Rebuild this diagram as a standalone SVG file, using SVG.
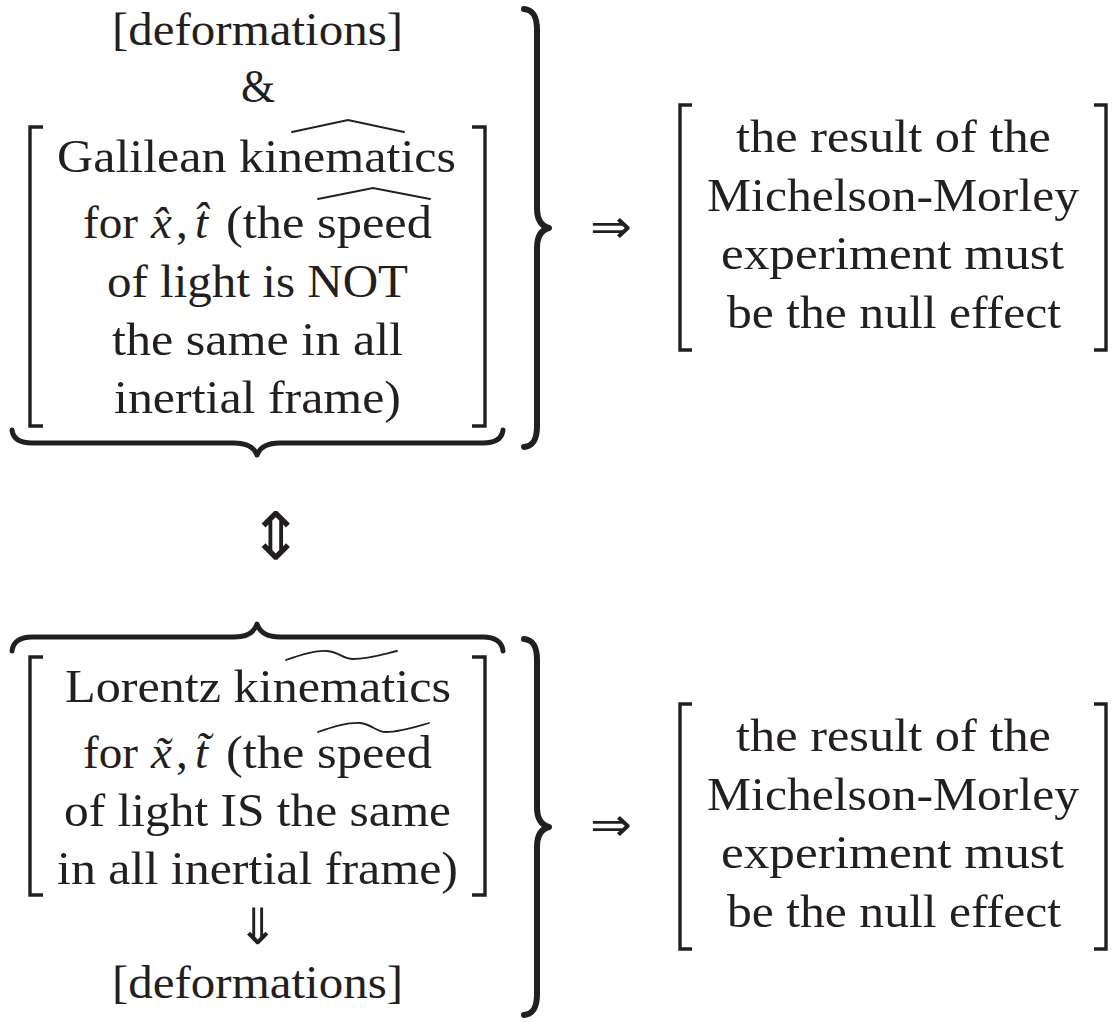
<svg xmlns="http://www.w3.org/2000/svg" width="1115" height="1022" viewBox="0 0 1115 1022">
<style>
.t{font-family:"Liberation Serif","Times New Roman",serif;font-size:47px;fill:#231f20}
.i{font-style:italic}
.a{font-family:"DejaVu Sans ExtraLight","DejaVu Sans","DejaVu Serif",sans-serif;fill:#231f20}
.brk{fill:none;stroke:#231f20;stroke-width:3.4;stroke-linejoin:miter}
.brace{fill:none;stroke:#231f20;stroke-width:5;stroke-linecap:round;stroke-linejoin:round}
.bigbrace{fill:none;stroke:#231f20;stroke-width:6;stroke-linecap:round;stroke-linejoin:round}
.acc{fill:none;stroke:#231f20;stroke-width:1.8;stroke-linecap:round;stroke-linejoin:miter}
</style>
<rect width="1115" height="1022" fill="#ffffff"/>

<g id="galilean">
<text class="t" x="112" y="45" textLength="291" lengthAdjust="spacingAndGlyphs">[deformations]</text>
<text class="t" x="241" y="102" textLength="34" lengthAdjust="spacingAndGlyphs">&amp;</text>
<path class="brk" d="M43,127 L30,127 L30,426 L43,426"/>
<path class="brk" d="M472,127 L485,127 L485,426 L472,426"/>
<text class="t" x="57" y="172" textLength="399" lengthAdjust="spacingAndGlyphs">Galilean kinematics</text>
<path class="acc" d="M292,132 L348,120 L404,132"/>
<text class="t" x="83" y="238" textLength="55" lengthAdjust="spacingAndGlyphs">for</text>
<text class="t i" x="151" y="238">x̂</text>
<text class="t" x="176" y="238">,</text>
<text class="t i" x="195" y="238">t̂</text>
<text class="t" x="226" y="238" textLength="206" lengthAdjust="spacingAndGlyphs">(the speed</text>
<path class="acc" d="M318,199 L373,188 L430,199"/>
<text class="t" x="107" y="297" textLength="301" lengthAdjust="spacingAndGlyphs">of light is NOT</text>
<text class="t" x="112" y="355" textLength="291" lengthAdjust="spacingAndGlyphs">the same in all</text>
<text class="t" x="114" y="413" textLength="287" lengthAdjust="spacingAndGlyphs">inertial frame)</text>
<path class="brace" d="M12,430 C13,439 20,443 32,443 L234,443 C247,443 254,447 257,455 C260,447 267,443 280,443 L483,443 C495,443 502,439 503,430"/>
<path class="bigbrace" d="M524,9 C533,10 537,16 537,30 L537,208 C537,220 541,226 549,228 C541,230 537,236 537,248 L537,426 C537,440 533,446 524,447"/>
</g>

<g id="result-top">
<path class="brk" d="M692,105 L680,105 L680,350 L692,350"/>
<path class="brk" d="M1094,105 L1106,105 L1106,350 L1094,350"/>
<text class="t" x="736" y="152" textLength="315" lengthAdjust="spacingAndGlyphs">the result of the</text>
<text class="t" x="707" y="211" textLength="372" lengthAdjust="spacingAndGlyphs">Michelson-Morley</text>
<text class="t" x="721" y="269" textLength="343" lengthAdjust="spacingAndGlyphs">experiment must</text>
<text class="t" x="727" y="328" textLength="334" lengthAdjust="spacingAndGlyphs">be the null effect</text>
</g>

<g id="lorentz">
<path class="brace" d="M12,651 C13,642 20,637 32,637 L234,637 C247,637 254,633 257,624 C260,633 267,637 280,637 L483,637 C495,637 502,642 503,651"/>
<path class="brk" d="M43,657 L30,657 L30,895 L43,895"/>
<path class="brk" d="M472,657 L485,657 L485,895 L472,895"/>
<text class="t" x="65" y="702" textLength="386" lengthAdjust="spacingAndGlyphs">Lorentz kinematics</text>
<path class="acc" d="M286,660 C300,655 315,650 327,651 C339,652 343,659 353,659 C368,659 384,654 397,651"/>
<text class="t" x="83" y="768" textLength="55" lengthAdjust="spacingAndGlyphs">for</text>
<text class="t i" x="151" y="768">x̃</text>
<text class="t" x="176" y="768">,</text>
<text class="t i" x="195" y="768">t̃</text>
<text class="t" x="226" y="768" textLength="206" lengthAdjust="spacingAndGlyphs">(the speed</text>
<path class="acc" d="M318,732 C332,727 347,722 360,723 C372,724 376,732 386,732 C400,732 415,727 429,723"/>
<text class="t" x="64" y="826" textLength="387" lengthAdjust="spacingAndGlyphs">of light IS the same</text>
<text class="t" x="57" y="884" textLength="401" lengthAdjust="spacingAndGlyphs">in all inertial frame)</text>
<text class="a" x="258" y="944" font-size="50" text-anchor="middle">⇓</text>
<text class="t" x="112" y="998" textLength="291" lengthAdjust="spacingAndGlyphs">[deformations]</text>
<path class="bigbrace" d="M524,639 C533,640 537,646 537,660 L537,807 C537,819 541,825 549,827 C541,829 537,835 537,847 L537,994 C537,1008 533,1014 524,1015"/>
</g>

<g id="result-bottom">
<path class="brk" d="M692,704 L680,704 L680,949 L692,949"/>
<path class="brk" d="M1094,704 L1106,704 L1106,949 L1094,949"/>
<text class="t" x="736" y="751" textLength="315" lengthAdjust="spacingAndGlyphs">the result of the</text>
<text class="t" x="707" y="810" textLength="372" lengthAdjust="spacingAndGlyphs">Michelson-Morley</text>
<text class="t" x="721" y="868" textLength="343" lengthAdjust="spacingAndGlyphs">experiment must</text>
<text class="t" x="727" y="927" textLength="334" lengthAdjust="spacingAndGlyphs">be the null effect</text>
</g>

<g id="connectors">
<text class="a" x="590" y="243" font-size="48" textLength="42" lengthAdjust="spacingAndGlyphs">⇒</text>
<text class="a" x="590" y="841" font-size="48" textLength="42" lengthAdjust="spacingAndGlyphs">⇒</text>
<text class="a" x="276" y="559" font-size="66" text-anchor="middle">⇕</text>
</g>
</svg>
